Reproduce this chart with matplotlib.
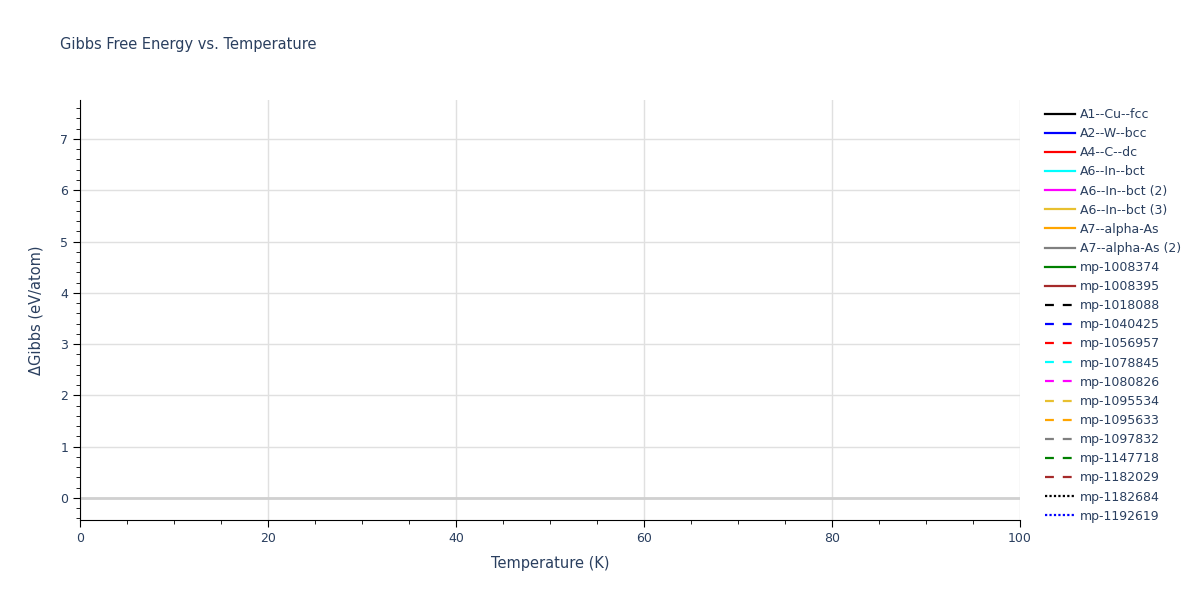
import numpy as np
import matplotlib.pyplot as plt
from matplotlib.ticker import MultipleLocator

# series names shown in the legend (no points fall inside the visible window)
names = ['A1--Cu--fcc', 'A2--W--bcc', 'A4--C--dc', 'A6--In--bct', 'A6--In--bct (2)',
         'A6--In--bct (3)', 'A7--alpha-As', 'A7--alpha-As (2)', 'mp-1008374', 'mp-1008395',
         'mp-1018088', 'mp-1040425', 'mp-1056957', 'mp-1078845', 'mp-1080826',
         'mp-1095534', 'mp-1095633', 'mp-1097832', 'mp-1147718', 'mp-1182029',
         'mp-1182684', 'mp-1192619']
colors = ['black', 'blue', 'red', 'cyan', 'magenta', '#e8c030', 'orange', 'gray',
          'green', '#a52a2a']
styles = ['solid'] * 10 + ['dashed'] * 10 + ['dotted'] * 2

temperature = {n: [] for n in names}
gibbs = {n: [] for n in names}

text_col = '#2a3f5f'
fig = plt.figure(figsize=(12, 6), dpi=100)
ax = fig.add_axes([80 / 1200, 80 / 600, 940 / 1200, 420 / 600])

for i, n in enumerate(names):
    c = colors[i % 10]
    ls = styles[i]
    if ls == 'dashed':
        ls = (0, (4, 4))
    elif ls == 'dotted':
        ls = (0, (1, 1))
    ax.plot(temperature[n], gibbs[n], color=c, linestyle=ls, linewidth=1.6, label=n)

ax.set_xlim(0, 100)
ax.set_ylim(-0.43, 7.76)
ax.xaxis.set_major_locator(MultipleLocator(20))
ax.xaxis.set_minor_locator(MultipleLocator(5))
ax.yaxis.set_major_locator(MultipleLocator(1))
ax.yaxis.set_minor_locator(MultipleLocator(0.2))
ax.grid(True, which='major', color='#e0e0e0', linewidth=1)
ax.axhline(0, color='#d0d0d0', linewidth=2, zorder=1)
ax.set_axisbelow(True)

for s in ['top', 'right']:
    ax.spines[s].set_visible(False)
for s in ['left', 'bottom']:
    ax.spines[s].set_color('black')
ax.tick_params(which='both', direction='out', colors='black', labelcolor=text_col, labelsize=9)
ax.tick_params(which='major', length=5)
ax.tick_params(which='minor', length=3)

ax.set_xlabel('Temperature (K)', color=text_col, fontsize=10.5, labelpad=8)
ax.set_ylabel('ΔGibbs (eV/atom)', color=text_col, fontsize=10.5, labelpad=12)
fig.text(60 / 1200, 1 - 45 / 600, 'Gibbs Free Energy vs. Temperature', color=text_col,
         fontsize=10.5, va='center')

leg = fig.legend(loc='upper left', bbox_to_anchor=(1040 / 1200, 1 - 103 / 600),
                 frameon=False, fontsize=9, handlelength=2.4, handletextpad=0.4,
                 labelspacing=0.49, borderaxespad=0)
for t in leg.get_texts():
    t.set_color(text_col)

fig.savefig('out.png', dpi=100)
